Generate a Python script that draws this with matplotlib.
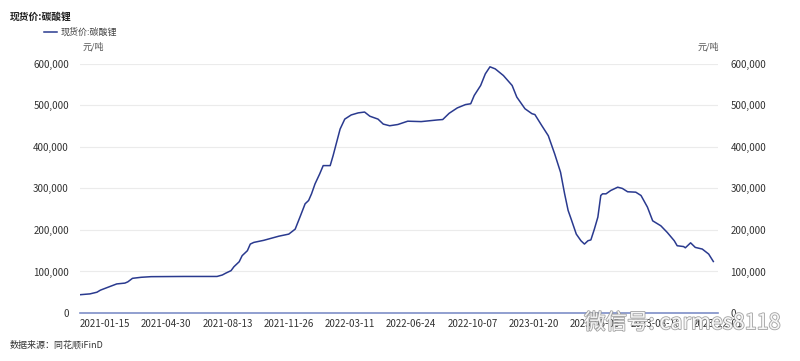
import matplotlib
matplotlib.use("Agg")
import matplotlib.pyplot as plt
import matplotlib.dates as mdates
import matplotlib.patheffects as pe
import pandas as pd

plt.rcParams['font.family'] = ['Noto Sans CJK SC', 'DejaVu Sans']

# 现货价:碳酸锂 (元/吨)
dates = [
    "2020-12-03", "2020-12-20", "2021-01-01", "2021-01-07", "2021-01-20", "2021-02-04",
    "2021-02-18", "2021-02-23", "2021-03-03", "2021-03-18", "2021-04-04", "2021-05-31",
    "2021-07-26", "2021-08-04", "2021-08-10", "2021-08-19", "2021-08-24", "2021-09-02",
    "2021-09-07", "2021-09-16", "2021-09-21", "2021-09-27", "2021-10-14", "2021-11-09",
    "2021-11-26", "2021-12-07", "2021-12-16", "2021-12-24", "2021-12-30", "2022-01-04",
    "2022-01-10", "2022-01-18", "2022-01-24", "2022-02-05", "2022-02-10", "2022-02-16",
    "2022-02-22", "2022-03-02", "2022-03-13", "2022-03-25", "2022-04-05", "2022-04-14",
    "2022-04-28", "2022-05-07", "2022-05-18", "2022-06-01", "2022-06-18", "2022-07-11",
    "2022-08-08", "2022-08-17", "2022-08-28", "2022-09-11", "2022-09-25", "2022-10-04",
    "2022-10-10", "2022-10-21", "2022-10-29", "2022-11-06", "2022-11-15", "2022-11-29",
    "2022-12-14", "2022-12-22", "2023-01-05", "2023-01-17", "2023-01-22", "2023-02-03",
    "2023-02-14", "2023-02-25", "2023-03-07", "2023-03-14", "2023-03-20", "2023-03-25",
    "2023-04-03", "2023-04-11", "2023-04-17", "2023-04-23", "2023-04-28", "2023-05-04",
    "2023-05-10", "2023-05-15", "2023-05-18", "2023-05-24", "2023-06-01", "2023-06-13",
    "2023-06-21", "2023-06-30", "2023-07-14", "2023-07-23", "2023-08-03", "2023-08-12",
    "2023-08-26", "2023-09-06", "2023-09-18", "2023-09-23", "2023-10-04", "2023-10-07",
    "2023-10-16", "2023-10-24", "2023-11-05", "2023-11-16", "2023-11-24",
]
prices = [
    44000, 46000, 50000, 55000, 62000, 70000,
    72000, 75000, 83500, 86000, 87500, 88000,
    88000, 91500, 96000, 102000, 111500, 123500,
    138000, 150000, 166000, 170000, 175000, 185000,
    190000, 202000, 234000, 263000, 271000, 287000,
    311000, 335000, 355000, 355000, 379000, 411000,
    443000, 467000, 477000, 482000, 484000, 474000,
    467000, 455000, 451000, 454000, 462000, 461000,
    465000, 466000, 481000, 494000, 502000, 504000,
    524000, 548000, 576000, 593000, 588000, 572000,
    548000, 520000, 492000, 480000, 478000, 451000,
    427000, 383000, 339000, 287000, 247000, 227000,
    190000, 174000, 166000, 174000, 176000, 202000,
    231000, 283000, 287000, 287000, 295000, 303000,
    300000, 292000, 291000, 283000, 255000, 222000,
    210000, 194000, 174000, 162000, 160000, 157000,
    169000, 158000, 154000, 142000, 124000,
]
tick_dates = ["2021-01-15", "2021-04-30", "2021-08-13", "2021-11-26", "2022-03-11",
              "2022-06-24", "2022-10-07", "2023-01-20", "2023-05-05", "2023-08-18",
              "2023-12-01"]
y_ticks = [0, 100000, 200000, 300000, 400000, 500000, 600000]

x = pd.to_datetime(dates)
ticks = pd.to_datetime(tick_dates)

fig = plt.figure(figsize=(8, 3.61), dpi=100)
ax = fig.add_axes([0.1, 0.133, 0.7975, 0.69])

ax.plot(x, prices, color="#2a3a8f", linewidth=1.1, label="现货价:碳酸锂")

ax.set_ylim(0, 600000)
ax.set_xlim(x[0], pd.Timestamp("2023-12-02"))
ax.set_yticks(y_ticks)
ax.set_yticklabels([f"{v:,}" for v in y_ticks])
ax.set_xticks(ticks)
ax.xaxis.set_major_formatter(mdates.DateFormatter("%Y-%m-%d"))

ax.grid(axis="y", color="#ebebeb", linewidth=0.8)
ax.set_axisbelow(True)
for side in ["top", "left", "right"]:
    ax.spines[side].set_visible(False)
ax.spines["bottom"].set_color("#7e8fc8")
ax.spines["bottom"].set_linewidth(1.2)
ax.tick_params(axis="both", length=0, labelsize=7, labelcolor="#333333")
ax.tick_params(axis="y", pad=8)
ax.tick_params(axis="x", pad=4)

ax2 = ax.twinx()
ax2.set_ylim(0, 600000)
ax2.set_yticks(y_ticks)
ax2.set_yticklabels([f"{v:,}" for v in y_ticks])
ax2.tick_params(axis="y", length=0, labelsize=7, labelcolor="#333333", pad=9)
for s in ax2.spines.values():
    s.set_visible(False)

fig.text(0.0125, 0.953, "现货价:碳酸锂", fontsize=7, fontweight="bold", color="#222222", va="center")
fig.legend(loc="center left", bbox_to_anchor=(0.045, 0.911), frameon=False,
           fontsize=6.5, handlelength=1.4, handletextpad=0.4, labelcolor="#444444")
fig.text(0.103, 0.87, "元/吨", fontsize=6.5, color="#555555", va="center")
fig.text(0.872, 0.87, "元/吨", fontsize=6.5, color="#555555", va="center")
fig.text(0.0125, 0.044, "数据来源：同花顺iFinD", fontsize=6.5, color="#333333", va="center")

# watermark overlay seen in the reference
wm = fig.text(0.73, 0.105, "微信号: carmes8118", fontsize=15.5, color="white", va="center",
              ha="left", alpha=0.9)
wm.set_path_effects([pe.Stroke(linewidth=1.2, foreground="#999999"), pe.Normal()])

fig.savefig("out.png", dpi=100)
